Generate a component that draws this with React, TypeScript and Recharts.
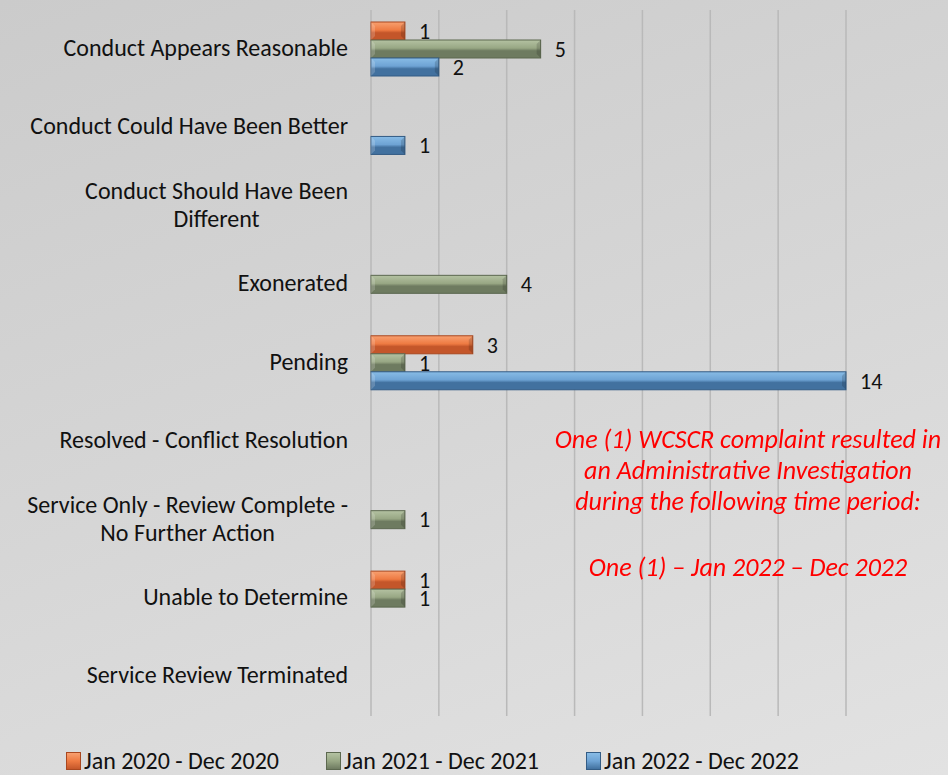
import { BarChart, Bar, XAxis, YAxis, CartesianGrid, Legend, LabelList } from 'recharts';

const categories = [
  'Conduct Appears Reasonable',
  'Conduct Could Have Been Better',
  'Conduct Should Have Been|Different',
  'Exonerated',
  'Pending',
  'Resolved - Conflict Resolution',
  'Service Only - Review Complete -|No Further Action',
  'Unable to Determine',
  'Service Review Terminated',
];

const jan2020 = [1, 0, 0, 0, 3, 0, 0, 1, 0];
const jan2021 = [5, 0, 0, 4, 1, 0, 1, 1, 0];
const jan2022 = [2, 1, 0, 0, 14, 0, 0, 0, 0];

const xTicks = [0, 2, 4, 6, 8, 10, 12, 14];

const seriesNames = ['Jan 2020 - Dec 2020', 'Jan 2021 - Dec 2021', 'Jan 2022 - Dec 2022'];

const noteLines = [
  'One (1) WCSCR complaint resulted in',
  'an Administrative Investigation',
  'during the following time period:',
  '',
  'One (1) \u2013 Jan 2022 \u2013 Dec 2022',
];

const chartData = categories.map((name, i) => ({
  name,
  a: jan2020[i],
  b: jan2021[i],
  c: jan2022[i],
}));

const FONT = "Carlito, 'Noto Sans', sans-serif";

const colors = [
  { id: 'gOrange', top: '#f8a070', mid: '#ee7a42', bot: '#c4562a', edge: '#a9471f' },
  { id: 'gGreen', top: '#b4c2a2', mid: '#98a784', bot: '#6e7b60', edge: '#5c684f' },
  { id: 'gBlue', top: '#88bce6', mid: '#6ea3d4', bot: '#42719f', edge: '#335c85' },
];

let ctx: CanvasRenderingContext2D | null = null;
const measure = (text: string, font: string) => {
  if (!ctx) ctx = document.createElement('canvas').getContext('2d');
  if (!ctx) return text.length * 11;
  ctx.font = font;
  return ctx.measureText(text).width;
};

// multi-line labels are centred on each other, the block is right-aligned
const CategoryTick = (props: any) => {
  const { y, payload } = props;
  const lines: string[] = String(payload.value).split('|');
  const right = 348;
  const widest = Math.max(...lines.map((l) => measure(l, `24px ${FONT}`)));
  const cx = right - widest / 2;
  const startY = y - ((lines.length - 1) * 28) / 2;
  return (
    <text textAnchor="middle" fontSize={24} fontFamily={FONT} fill="#111">
      {lines.map((l, i) => (
        <tspan key={i} x={cx} y={startY + i * 28} dy="0.28em">
          {l}
        </tspan>
      ))}
    </text>
  );
};

const BevelBar = (props: any) => {
  const { x, y, width, height, fill, stroke } = props;
  if (!width || width <= 0) return null;
  const b = Math.min(4, width / 3);
  return (
    <g>
      <rect x={x} y={y} width={width} height={height} fill={fill} stroke={stroke} strokeWidth={1} />
      <polygon
        points={`${x},${y} ${x + b},${y + b} ${x + b},${y + height - b} ${x},${y + height}`}
        fill="#ffffff"
        opacity={0.18}
      />
      <polygon
        points={`${x + width},${y} ${x + width - b},${y + b} ${x + width - b},${y + height - b} ${x + width},${y + height}`}
        fill="#000000"
        opacity={0.15}
      />
    </g>
  );
};

const LegendContent = () => (
  <div style={{ display: 'flex', fontFamily: FONT, fontSize: 24, color: '#111', paddingLeft: 66, lineHeight: '28px', height: 28 }}>
    {seriesNames.map((n, i) => (
      <div key={n} style={{ width: 276, display: 'flex', alignItems: 'center' }}>
        <span
          style={{
            display: 'inline-block',
            width: 13,
            height: 16,
            marginRight: 3,
            border: `1px solid ${colors[i].edge}`,
            background: `linear-gradient(${colors[i].top}, ${colors[i].mid} 50%, ${colors[i].bot})`,
          }}
        />
        {n}
      </div>
    ))}
  </div>
);

const fmt = (v: any) => (v ? v : '');

export default function App() {
  return (
    <div
      style={{
        position: 'fixed',
        top: 0,
        left: 0,
        width: 948,
        height: 775,
        background: 'linear-gradient(160deg, #cbcbcb 0%, #d6d6d6 50%, #e2e2e2 100%)',
      }}
    >
      <BarChart
        width={948}
        height={775}
        data={chartData}
        layout="vertical"
        margin={{ top: 10, right: 102, bottom: 31, left: 0 }}
        barSize={18}
        barGap={0}
      >
        <defs>
          {colors.map((c) => (
            <linearGradient key={c.id} id={c.id} x1="0" y1="0" x2="0" y2="1">
              <stop offset="0%" stopColor={c.top} />
              <stop offset="45%" stopColor={c.mid} />
              <stop offset="60%" stopColor={c.bot} />
              <stop offset="100%" stopColor={c.bot} />
            </linearGradient>
          ))}
        </defs>
        <CartesianGrid horizontal={false} stroke="#b9b9b9" strokeWidth={1.5} />
        <XAxis type="number" domain={[0, 14]} ticks={xTicks} hide />
        <YAxis
          type="category"
          dataKey="name"
          width={371}
          axisLine={false}
          tickLine={false}
          tick={<CategoryTick />}
          interval={0}
        />
        <Legend verticalAlign="bottom" content={<LegendContent />} wrapperStyle={{ bottom: 0, left: 0 }} />
        {['a', 'b', 'c'].map((k, i) => (
          <Bar
            key={k}
            dataKey={k}
            name={seriesNames[i]}
            fill={`url(#${colors[i].id})`}
            stroke={colors[i].edge}
            shape={<BevelBar />}
            isAnimationActive={false}
          >
            <LabelList dataKey={k} position="right" offset={14} fill="#111" fontSize={22} fontFamily={FONT} formatter={fmt} />
          </Bar>
        ))}
      </BarChart>
      <div
        style={{
          position: 'absolute',
          left: 538,
          width: 420,
          top: 424,
          textAlign: 'center',
          color: '#ff0000',
          fontStyle: 'italic',
          fontFamily: FONT,
          fontSize: 26,
          lineHeight: '31px',
        }}
      >
        {noteLines.map((l, i) => (
          <div key={i} style={{ height: l ? 31 : 35 }}>
            {l}
          </div>
        ))}
      </div>
    </div>
  );
}
